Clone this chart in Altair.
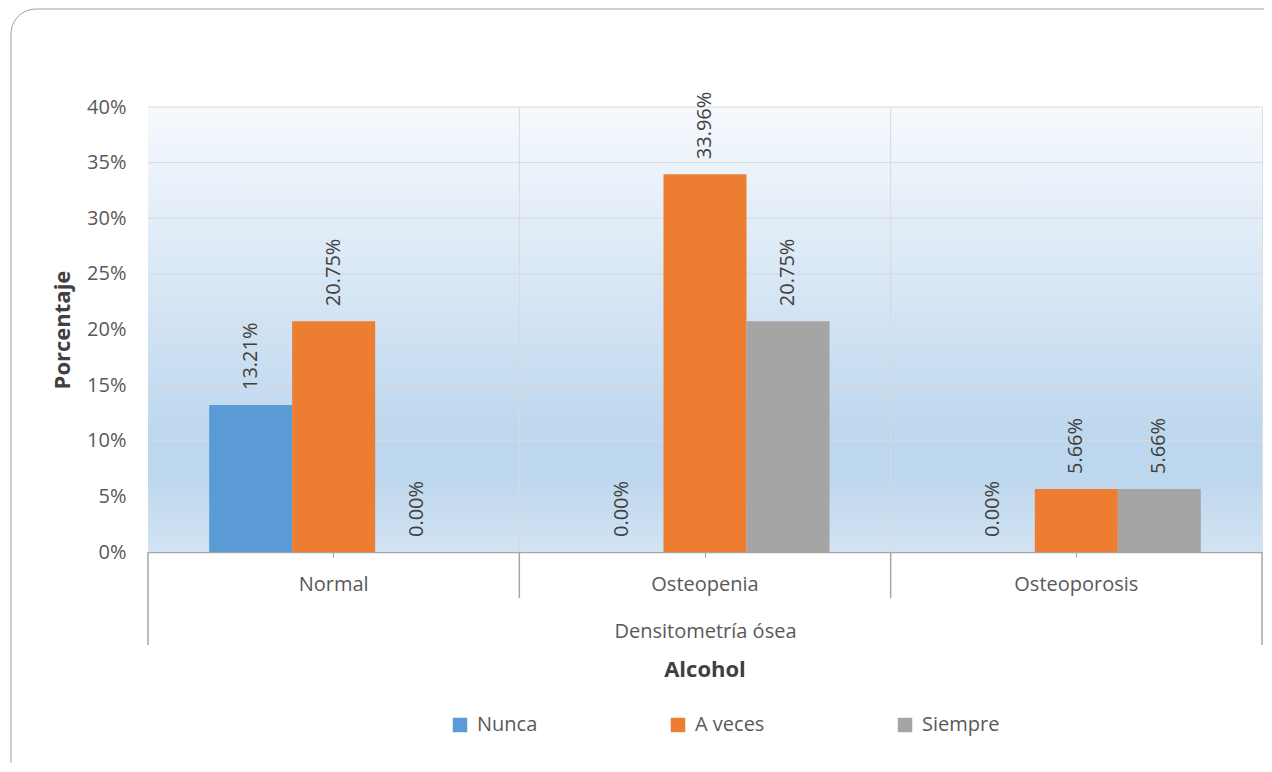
import altair as alt
import pandas as pd

cats = ["Normal", "Osteopenia", "Osteoporosis"]
series = ["Nunca", "A veces", "Siempre"]
nunca = [13.21, 0.00, 0.00]
a_veces = [20.75, 33.96, 5.66]
siempre = [0.00, 20.75, 5.66]
colors = ["#5b9bd5", "#ed7d31", "#a5a5a5"]
y_ticks = [0, 5, 10, 15, 20, 25, 30, 35, 40]

rows = []
for s, vals in zip(series, [nunca, a_veces, siempre]):
    for c, v in zip(cats, vals):
        rows.append({"cat": c, "serie": s, "val": v / 100})
df = pd.DataFrame(rows)

FONT = "Open Sans"
W, H = 1114, 445
XT = "Densitometría ósea"
YT = "Porcentaje"

xscale = alt.Scale(domain=cats, paddingInner=0, paddingOuter=0)
yscale = alt.Scale(domain=[0, 0.4])

xaxis = alt.Axis(
    labelAngle=0, labelFontSize=20, labelColor="#595959", labelFont=FONT,
    labelPadding=17, tickSize=5, tickColor="#a6a6a6", domainColor="#a6a6a6",
    domainWidth=1.5, grid=False, titleFontSize=20, titleFont=FONT,
    titleFontWeight="normal", titleColor="#595959", titlePadding=27,
)
yaxis = alt.Axis(
    values=[v / 100 for v in y_ticks], format=".0%", grid=False, domain=False,
    ticks=False, labelFontSize=20, labelColor="#595959", labelFont=FONT,
    labelPadding=22, titleFontSize=22, titleFont=FONT, titleFontWeight="bold",
    titleColor="#404040", titlePadding=12,
)

# decoration: rounded chart border
border = alt.Chart(alt.Data(values=[{}])).mark_rect(
    cornerRadius=25, fillOpacity=0, stroke="#a0a0a0", strokeWidth=1
).encode(x=alt.value(-137), x2=alt.value(1150), y=alt.value(-98), y2=alt.value(690))

grad = alt.LinearGradient(
    gradient="linear",
    stops=[
        alt.GradientStop(offset=0, color="#f6f9fd"),
        alt.GradientStop(offset=0.74, color="#bdd7ee"),
        alt.GradientStop(offset=0.83, color="#bdd7ee"),
        alt.GradientStop(offset=1, color="#d2e3f3"),
    ],
    x1=0, x2=0, y1=0, y2=1,
)
bg = alt.Chart(alt.Data(values=[{}])).mark_rect(color=grad).encode(
    x=alt.value(0), x2=alt.value(W), y=alt.value(0), y2=alt.value(H)
)

hgrid = alt.Chart(pd.DataFrame({"val": [v / 100 for v in y_ticks[1:]]})).mark_rule(
    color="#d9d9d9", strokeWidth=1
).encode(y=alt.Y("val:Q", scale=yscale, axis=yaxis, title=YT))

inner = pd.DataFrame({"cat": cats[1:]})
vgrid = alt.Chart(inner).mark_rule(color="#d9d9d9", strokeWidth=1).encode(
    x=alt.X("cat:N", scale=xscale, sort=cats, bandPosition=0, axis=xaxis, title=XT),
    y=alt.value(0), y2=alt.value(H),
)
vsep = alt.Chart(inner).mark_rule(color="#a6a6a6", strokeWidth=1.5).encode(
    x=alt.X("cat:N", scale=xscale, sort=cats, bandPosition=0, axis=xaxis, title=XT),
    y=alt.value(H), y2=alt.value(H + 46),
)
outer_l = alt.Chart(pd.DataFrame({"cat": cats[:1]})).mark_rule(color="#a6a6a6", strokeWidth=1.5).encode(
    x=alt.X("cat:N", scale=xscale, sort=cats, bandPosition=0, axis=xaxis, title=XT),
    y=alt.value(H), y2=alt.value(H + 93),
)
outer_r = alt.Chart(pd.DataFrame({"cat": cats[-1:]})).mark_rule(color="#a6a6a6", strokeWidth=1.5).encode(
    x=alt.X("cat:N", scale=xscale, sort=cats, bandPosition=1, axis=xaxis, title=XT),
    y=alt.value(H), y2=alt.value(H + 93),
)

base = alt.Chart(df).encode(
    x=alt.X("cat:N", scale=xscale, sort=cats, title=XT, axis=xaxis),
    xOffset=alt.XOffset(
        "serie:N", sort=series,
        scale=alt.Scale(domain=series, paddingInner=0, paddingOuter=0.737),
    ),
    y=alt.Y("val:Q", scale=yscale, title=YT, axis=yaxis),
)

bars = base.mark_bar().encode(
    color=alt.Color(
        "serie:N", sort=series,
        scale=alt.Scale(domain=series, range=colors),
        legend=alt.Legend(
            title=None, orient="none", direction="horizontal", legendX=302, legendY=608,
            symbolType="square", symbolSize=210, symbolStrokeWidth=0,
            labelFontSize=20, labelFont=FONT, labelColor="#595959", labelOffset=7,
            columnPadding=130,
        ),
    )
)

labels = base.mark_text(
    angle=270, align="left", baseline="middle", dx=15, fontSize=20, font=FONT, color="#404040"
).encode(text=alt.Text("val:Q", format=".2%"))

alcohol = alt.Chart(alt.Data(values=[{"t": "Alcohol"}])).mark_text(
    fontSize=22, font=FONT, fontWeight="bold", color="#404040", baseline="middle", align="center"
).encode(x=alt.value(W / 2), y=alt.value(563), text="t:N")

chart = alt.layer(
    border, bg, hgrid, vgrid, vsep, outer_l, outer_r, bars, labels, alcohol
).properties(
    width=W, height=H,
    autosize=alt.AutoSizeParams(type="none"),
    padding={"left": 140, "top": 99, "right": 2, "bottom": 211},
).configure_view(stroke="#d9d9d9", strokeWidth=1).configure(background="white")

chart.save("out.html", embed_options={"renderer": "svg", "actions": False})
